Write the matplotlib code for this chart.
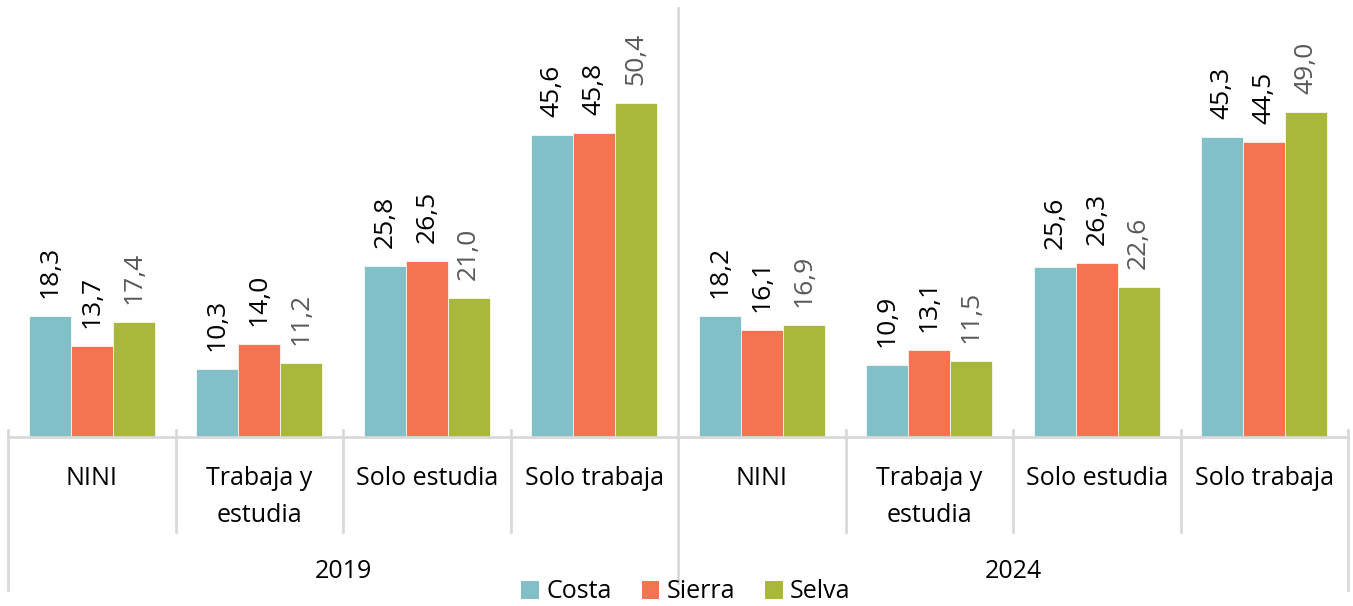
import matplotlib
matplotlib.use("Agg")
import matplotlib.pyplot as plt
from matplotlib.patches import Patch
import numpy as np

years = ["2019", "2024"]
categories = ["NINI", "Trabaja y\nestudia", "Solo estudia", "Solo trabaja"]
series = ["Costa", "Sierra", "Selva"]
costa = [18.3, 10.3, 25.8, 45.6, 18.2, 10.9, 25.6, 45.3]
sierra = [13.7, 14.0, 26.5, 45.8, 16.1, 13.1, 26.3, 44.5]
selva = [17.4, 11.2, 21.0, 50.4, 16.9, 11.5, 22.6, 49.0]

colors = ["#82C0C7", "#F47351", "#A9B73A"]
label_colors = ["#000000", "#000000", "#595959"]
line_col = "#D9D9D9"

plt.rcParams['font.family'] = ['Open Sans', 'DejaVu Sans']

W, H = 1353, 606
fig = plt.figure(figsize=(W / 100, H / 100), dpi=100)
x0, x1, yb, yt = 8, 1348, 437, 8
ax = fig.add_axes([x0 / W, (H - yb) / H, (x1 - x0) / W, (yb - yt) / H])

n = len(categories) * len(years)
x = np.arange(n)
bw = 0.25
ppu = 6.63
ax.set_ylim(0, (yb - yt) / ppu)
ax.set_xlim(-0.5, n - 0.5)

fs_num = 19
fs = 18
for i, (vals, c, lc) in enumerate(zip([costa, sierra, selva], colors, label_colors)):
    bars = ax.bar(x + (i - 1) * bw, vals, width=bw, color=c, label=series[i],
                  edgecolor="white", linewidth=0.5)
    ax.bar_label(bars, labels=[f"{v:.1f}".replace(".", ",") for v in vals],
                 rotation=90, padding=13, color=lc, fontsize=fs_num)

for s in ax.spines.values():
    s.set_visible(False)
ax.set_xticks([])
ax.set_yticks([])

tr = ax.get_xaxis_transform()
ph = yb - yt
def fy(py):
    return (yb - py) / ph

lw = 2
ax.plot([-0.5, n - 0.5], [0, 0], color=line_col, lw=lw, transform=tr, clip_on=False, zorder=3)
for b in np.arange(-0.5, n, 1.0):
    if b in (-0.5, n - 0.5):
        ax.plot([b, b], [fy(430), fy(590)], color=line_col, lw=lw, transform=tr, clip_on=False)
    elif abs(b - (len(categories) - 0.5)) < 1e-9:
        ax.plot([b, b], [fy(8), fy(583)], color=line_col, lw=lw, transform=tr, clip_on=False)
    else:
        ax.plot([b, b], [fy(430), fy(532)], color=line_col, lw=lw, transform=tr, clip_on=False)

# category labels (one text per line)
for j in range(n):
    lines = categories[j % len(categories)].split("\n")
    for li, line in enumerate(lines):
        ax.text(x[j], fy(485 + 37 * li), line, ha="center", va="baseline",
                fontsize=fs, transform=tr, color="#000000")
# year labels
for k, yr in enumerate(years):
    xc = k * len(categories) + (len(categories) - 1) / 2
    ax.text(xc, fy(578), yr, ha="center", va="baseline", fontsize=fs, transform=tr, color="#000000")

handles = [Patch(facecolor=c, edgecolor="none") for c in colors]
fig.legend(handles, series, loc="center", bbox_to_anchor=(686 / W, (H - 592) / H),
           ncol=3, frameon=False, fontsize=fs, handlelength=0.7, handleheight=0.7,
           handletextpad=0.3, columnspacing=1.2, borderaxespad=0, borderpad=0)

fig.savefig("out.png", dpi=100)
